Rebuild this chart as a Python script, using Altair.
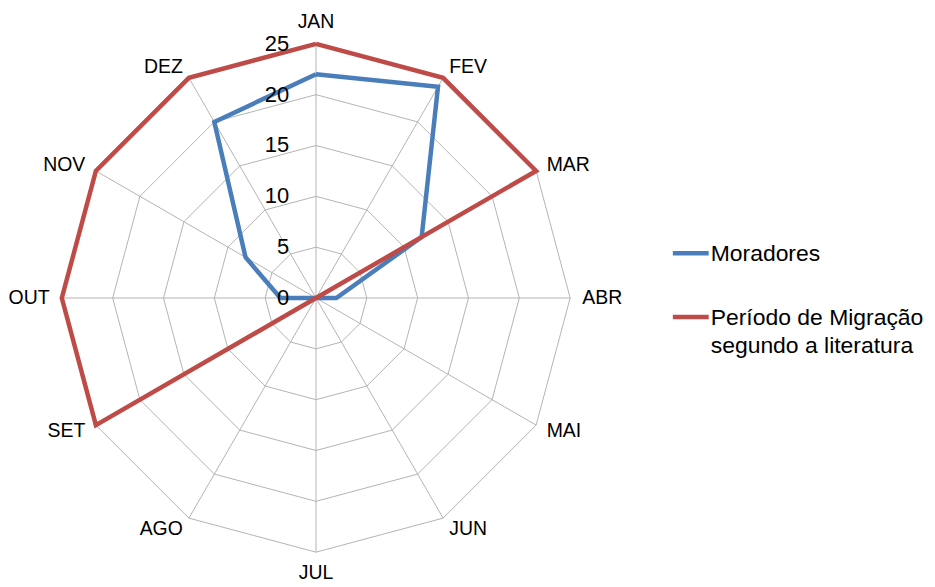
import altair as alt
import pandas as pd

# ---------------- data ----------------
months = ["JAN", "FEV", "MAR", "ABR", "MAI", "JUN", "JUL", "AGO", "SET", "OUT", "NOV", "DEZ"]
moradores = [22, 24, 12, 2, 0, 0, 0, 0, 0, 3.5, 8, 20]
periodo = [25, 25, 25, 0, 0, 0, 0, 0, 25, 25, 25, 25]
series_names = ["Moradores", "Período de Migração segundo a literatura"]
legend_labels = ["Moradores", "Período de Migração\nsegundo a literatura"]
series_colors = ["#4A7EBB", "#BE4B48"]
ticks = [0, 5, 10, 15, 20, 25]
rmax = 25

# ---------------- layout ----------------
PX = 10.2          # pixels per unit
W, H = 640, 578    # radar panel
CX, CY = 309, 290  # centre in panel pixels
R_LABEL = 26.2
FONT = "Liberation Sans"
GRID = "#b4b4b4"

xs = alt.Scale(domain=[-CX / PX, (W - CX) / PX], nice=False, zero=False)
ys = alt.Scale(domain=[-(H - CY) / PX, CY / PX], nice=False, zero=False)

n = len(months)
rows = []
for s, vals in zip(series_names, [moradores, periodo]):
    for i in range(n + 1):
        rows.append({"series": s, "month": months[i % n], "k": i, "value": vals[i % n]})
series_df = pd.DataFrame(rows)

ring_df = pd.DataFrame([{"level": lv, "k": i} for lv in ticks[1:] for i in range(n + 1)])
spoke_df = pd.DataFrame([{"k": i, "r": rmax} for i in range(n)])
label_df = pd.DataFrame([{"month": m, "k": i} for i, m in enumerate(months)])
tick_df = pd.DataFrame({"tick": ticks})

ANG = f"datum.k * 2 * PI / {n}"

X = lambda f: alt.X(f, type="quantitative", scale=xs, axis=None)
Y = lambda f: alt.Y(f, type="quantitative", scale=ys, axis=None)

rings = alt.Chart(ring_df).transform_calculate(
    x=f"datum.level * sin({ANG})", y=f"datum.level * cos({ANG})"
).mark_line(color=GRID, strokeWidth=1).encode(
    x=X("x"), y=Y("y"), detail="level:N", order="k:Q"
)

spokes = alt.Chart(spoke_df).transform_calculate(
    x0="0", y0="0", x1=f"datum.r * sin({ANG})", y1=f"datum.r * cos({ANG})"
).mark_rule(color=GRID, strokeWidth=1).encode(
    x=X("x0"), y=Y("y0"), x2="x1:Q", y2="y1:Q"
)

lines = alt.Chart(series_df).transform_calculate(
    x=f"datum.value * sin({ANG})", y=f"datum.value * cos({ANG})"
).mark_line(strokeWidth=4.5, strokeJoin="miter").encode(
    x=X("x"), y=Y("y"),
    color=alt.Color("series:N", scale=alt.Scale(domain=series_names, range=series_colors), legend=None),
    detail="series:N",
    order="k:Q",
)

lab_base = alt.Chart(label_df).transform_calculate(
    lx=f"{R_LABEL} * sin({ANG})", ly=f"{R_LABEL} * cos({ANG})"
)
lab_enc = dict(x=X("lx"), y=Y("ly"), text="month:N")
tstyle = dict(font=FONT, fontSize=19.5, color="#000000")
lab_right_side = lab_base.transform_filter(f"datum.k >= 1 && datum.k <= {n//2 - 1}").mark_text(
    align="left", baseline="middle", **tstyle).encode(**lab_enc)
lab_left_side = lab_base.transform_filter(f"datum.k >= {n//2 + 1}").mark_text(
    align="right", baseline="middle", **tstyle).encode(**lab_enc)
lab_top = lab_base.transform_filter("datum.k == 0").mark_text(
    align="center", baseline="bottom", **tstyle).encode(**lab_enc)
lab_bottom = lab_base.transform_filter(f"datum.k == {n//2}").mark_text(
    align="center", baseline="top", **tstyle).encode(**lab_enc)

tick_labels = alt.Chart(tick_df).transform_calculate(x0="0").mark_text(
    align="right", baseline="middle", dx=-27, font=FONT, fontSize=22, color="#000000"
).encode(x=X("x0"), y=Y("tick"), text="tick:Q")

radar = alt.layer(
    rings, spokes, lines, lab_right_side, lab_left_side, lab_top, lab_bottom, tick_labels
).properties(width=W, height=H)

# ---------------- legend panel ----------------
LW = 255
leg_df = pd.DataFrame({"series": series_names, "label": legend_labels, "row": [0, 1]})
STEP = 64
ly_scale = alt.Scale(domain=[-245 / STEP, -245 / STEP + H / STEP], reverse=True, nice=False, zero=False)

leg_sym = alt.Chart(leg_df).mark_rule(strokeWidth=4.5).encode(
    x=alt.value(0), x2=alt.value(36),
    y=alt.Y("row:Q", scale=ly_scale, axis=None),
    color=alt.Color("series:N", scale=alt.Scale(domain=series_names, range=series_colors), legend=None),
)
leg_txt = alt.Chart(leg_df).mark_text(
    align="left", baseline="alphabetic", dx=0, dy=8, lineBreak="\n", lineHeight=28,
    font=FONT, fontSize=23, color="#000000"
).encode(
    x=alt.value(38),
    y=alt.Y("row:Q", scale=ly_scale, axis=None),
    text="label:N",
)
legend = alt.layer(leg_sym, leg_txt).properties(width=LW, height=H)

chart = alt.hconcat(radar, legend, spacing=24).properties(
    padding=0, background="white"
).configure_view(strokeWidth=0, stroke=None)

chart.save("out.html", embed_options={"renderer": "svg", "actions": False})
